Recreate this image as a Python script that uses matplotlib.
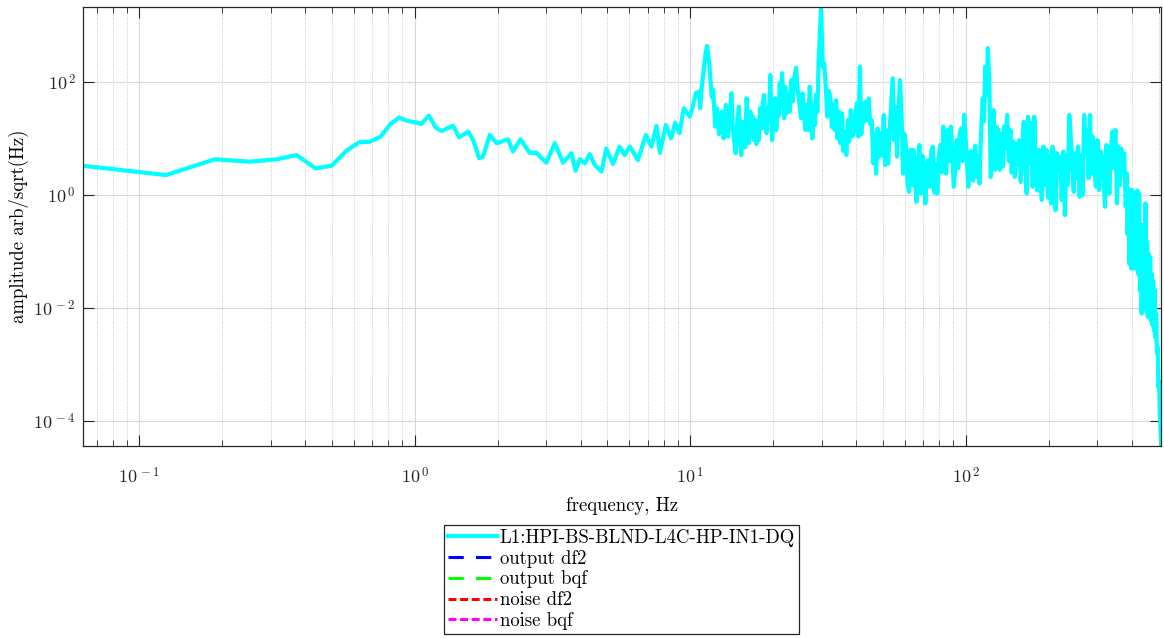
import numpy as np
import matplotlib
matplotlib.use('Agg')
import matplotlib.pyplot as plt
from matplotlib.ticker import FixedLocator, FixedFormatter, LogLocator, NullLocator, NullFormatter

plt.rcParams['font.family'] = 'serif'
plt.rcParams['font.serif'] = ['cmr10', 'DejaVu Serif']
plt.rcParams['mathtext.fontset'] = 'cm'
plt.rcParams['axes.unicode_minus'] = False

# spectrum: frequency (Hz) and amplitude (arb/sqrt(Hz))
# low part, below the 30 Hz spike
freq_lo = [0.0625, 0.125, 0.188, 0.252, 0.315, 0.372, 0.437, 0.499, 0.565, 0.628,
           0.687, 0.751, 0.816, 0.877, 0.933, 1.04, 1.057, 1.124, 1.19, 1.25,
           1.377, 1.448, 1.561, 1.628, 1.71, 1.768, 1.87, 1.98, 2.18, 2.27,
           2.42, 2.61, 2.76, 3.0, 3.22, 3.45, 3.70, 3.83, 3.97, 4.14,
           4.31, 4.5, 4.76, 4.95, 5.24, 5.53, 5.77, 6.03, 6.45, 6.89,
           7.22, 7.53, 7.75, 8.14, 8.51, 8.81, 9.13, 9.46, 9.94, 10.2,
           10.46, 10.75, 10.85, 11.0, 11.35, 11.5, 11.7, 11.95, 12.1, 12.3,
           12.45, 12.55, 12.7, 12.8, 13.0, 13.1, 13.2, 13.35, 13.45, 13.6,
           13.7, 13.9, 14.1, 14.25, 14.4, 14.6, 14.8, 15.0, 15.15, 15.3,
           15.45, 15.6, 15.8, 16.0, 16.15, 16.3, 16.5, 16.65, 16.8, 17.0,
           17.2, 17.35, 17.5, 17.7, 17.9, 18.1, 18.3, 18.5, 18.7, 18.9,
           19.1, 19.3, 19.5, 19.65, 19.8, 20.0, 20.3, 20.5, 20.7, 20.9,
           21.1, 21.3, 21.5, 21.7, 21.9, 22.1, 22.3, 22.6, 22.9, 23.2,
           23.5, 23.8, 24.2, 24.5, 24.9, 25.2, 25.5, 25.8, 26.1, 26.4,
           26.8, 27.1, 27.5, 27.7, 28.0, 28.3, 28.6, 28.9, 29.2, 29.8]
amp_lo = [3.3, 2.26, 4.3, 3.9, 4.3, 5.1, 2.97, 3.3, 6.1, 8.6,
          8.8, 10.8, 18.2, 23.5, 20.8, 18.7, 18.2, 25.5, 15.9, 13.6,
          16.9, 10.5, 13.3, 9.4, 4.5, 4.8, 11.6, 8.3, 9.7, 5.9,
          9.7, 5.6, 5.6, 3.74, 8.3, 3.74, 5.5, 2.7, 4.3, 3.65,
          5.3, 3.4, 2.6, 6.7, 3.55, 7.2, 5.1, 7.2, 4.17, 11.6,
          7.2, 16.7, 5.6, 17.4, 10.1, 19.1, 12.4, 34.5, 24.5, 36.8,
          63.6, 68.0, 34.5, 83.0, 325.0, 437.0, 216.0, 55.0, 73.0, 16.3,
          35.0, 28.0, 12.0, 14.2, 30.0, 23.0, 10.1, 25.0, 39.5, 12.0,
          10.8, 30.0, 63.6, 15.0, 9.4, 5.5, 20.0, 36.8, 8.0, 5.1,
          20.0, 14.2, 7.0, 51.6, 20.0, 8.3, 30.0, 12.0, 25.0, 9.4,
          21.3, 8.0, 18.0, 9.4, 34.5, 15.0, 40.0, 59.0, 20.0, 12.4,
          35.0, 28.0, 134.0, 30.0, 9.4, 20.0, 51.6, 14.2, 40.0, 25.0,
          95.0, 50.0, 144.0, 40.0, 23.0, 83.0, 28.0, 60.0, 30.0, 109.0,
          45.0, 120.0, 180.0, 73.0, 40.0, 23.0, 63.6, 30.0, 14.2, 40.0,
          14.2, 83.0, 30.0, 10.1, 36.8, 17.4, 60.0, 30.0, 250.0, 2140.0]

# dense band from 30 Hz up to the roll-off
freq_hi = [30.2, 30.6, 31.0, 31.4, 31.8, 32.2, 32.6, 33.0, 33.4, 33.8,
           34.2, 34.6, 35.0, 35.5, 35.9, 36.4, 36.8, 37.3, 37.7, 38.2,
           38.7, 39.2, 39.7, 40.2, 40.7, 41.2, 41.7, 42.2, 42.7, 43.3,
           43.8, 44.4, 44.9, 45.5, 46.1, 46.6, 47.2, 47.8, 48.4, 49.0,
           49.6, 50.3, 50.9, 51.5, 52.2, 52.8, 53.5, 54.2, 54.8, 55.5,
           56.2, 56.9, 57.6, 58.4, 59.1, 59.8, 60.6, 61.3, 62.1, 62.9,
           63.7, 64.5, 65.3, 66.1, 66.9, 67.8, 68.6, 69.5, 70.4, 71.2,
           72.1, 73.0, 74.0, 74.9, 75.8, 76.8, 77.7, 78.7, 79.7, 80.7,
           81.7, 82.7, 83.8, 84.8, 85.9, 87.0, 88.1, 89.2, 90.3, 91.4,
           92.6, 93.7, 94.9, 96.1, 97.3, 98.5, 99.8, 101.0, 102.0, 104.0,
           105.0, 106.0, 108.0, 109.0, 110.0, 112.0, 113.0, 115.0, 116.0, 117.6,
           119.0, 120.0, 121.5, 123.0, 124.5, 126.0, 127.5, 129.0, 131.0, 132.5,
           134.0, 136.0, 137.5, 139.0, 141.0, 143.0, 145.0, 146.5, 148.5, 150.5,
           152.0, 154.0, 156.0, 158.0, 160.0, 162.0, 164.0, 166.0, 168.0, 170.0,
           172.5, 174.5, 177.0, 179.0, 181.5, 184.0, 186.0, 188.5, 191.0, 193.5,
           196.0, 198.5, 201.0, 203.5, 206.0, 209.0, 211.5, 214.0, 217.0, 220.0,
           222.5, 225.5, 228.5, 231.0, 234.0, 237.0, 240.0, 243.0, 246.0, 249.0,
           252.0, 255.0, 258.5, 262.0, 265.0, 268.5, 272.0, 275.0, 278.5, 282.0,
           285.5, 289.0, 292.5, 296.0, 300.0, 304.0, 307.5, 311.5, 315.5, 319.5,
           323.5, 327.5, 331.5, 335.5, 340.0, 344.0, 348.5, 353.0, 357.0, 361.5,
           366.0, 370.5, 375.0]
amp_hi = [188.0, 216.0, 83.0, 24.5, 70.0, 55.0, 16.0, 40.0, 14.2, 48.0,
          10.0, 30.0, 8.3, 28.0, 6.0, 13.3, 5.1, 21.3, 8.8, 32.0,
          11.0, 13.3, 30.0, 42.0, 10.8, 188.0, 12.0, 42.0, 20.0, 45.0,
          21.3, 51.6, 18.0, 21.3, 3.65, 12.0, 2.4, 15.0, 4.8, 12.4,
          5.0, 26.2, 3.4, 14.0, 3.6, 12.4, 40.0, 117.0, 9.4, 36.8,
          4.8, 30.0, 109.0, 24.5, 2.4, 12.0, 7.2, 1.8, 1.14, 6.3,
          1.5, 6.3, 2.1, 0.76, 4.0, 7.7, 1.07, 5.0, 3.65, 0.71,
          3.0, 4.17, 1.4, 6.0, 7.2, 1.1, 3.5, 1.07, 5.0, 7.7,
          2.5, 16.3, 3.0, 2.4, 14.2, 4.0, 16.3, 6.0, 1.4, 2.8,
          9.4, 3.0, 12.0, 15.2, 4.0, 26.2, 9.4, 3.0, 1.4, 6.0,
          4.8, 1.8, 7.5, 2.1, 5.0, 1.6, 7.7, 51.6, 20.0, 188.0,
          60.0, 400.0, 109.0, 2.1, 9.4, 32.0, 2.8, 16.3, 14.2, 2.8,
          12.0, 3.2, 16.3, 6.7, 26.2, 4.0, 14.2, 2.5, 9.0, 2.1,
          8.0, 3.4, 9.4, 1.7, 6.7, 20.0, 4.0, 1.07, 24.5, 3.65,
          18.7, 1.4, 24.5, 4.8, 1.2, 6.3, 2.0, 0.82, 7.2, 1.5,
          6.3, 0.9, 5.0, 0.71, 7.2, 2.0, 0.54, 5.5, 2.8, 4.8,
          0.82, 5.9, 0.44, 5.1, 1.5, 26.2, 10.8, 3.0, 1.14, 5.5,
          2.0, 7.2, 0.93, 5.0, 1.0, 26.2, 8.0, 14.2, 2.0, 26.2,
          2.4, 10.8, 3.0, 1.4, 9.4, 1.23, 6.0, 4.8, 2.0, 0.62,
          7.7, 2.0, 1.07, 6.3, 13.3, 3.0, 14.2, 0.71, 7.2, 1.5,
          6.7, 2.4, 5.5]

# roll-off above 380 Hz
freq_top = [380.0, 383.0, 386.0, 389.0, 392.0, 395.0, 398.0, 401.0, 404.0, 407.0,
            410.0, 413.0, 416.0, 419.0, 422.0, 425.0, 428.0, 431.0, 434.0, 437.0,
            440.0, 443.0, 446.0, 448.0, 451.0, 454.0, 457.0, 460.0, 463.0, 466.0,
            469.0, 472.0, 475.0, 478.0, 481.0, 484.0, 487.0, 490.0, 493.0, 496.0,
            499.0, 502.0, 505.0, 508.0, 511.0]
amp_top = [0.62, 2.4, 0.2, 1.3, 0.06, 1.2, 0.05, 1.23, 0.1, 0.9,
           0.05, 1.1, 0.07, 1.2, 0.04, 1.07, 0.02, 0.3, 0.008, 0.2,
           0.01, 0.3, 0.015, 0.71, 0.009, 0.15, 0.007, 0.09, 0.008, 0.08,
           0.006, 0.04, 0.005, 0.03, 0.004, 0.021, 0.003, 0.008, 0.0016, 0.002,
           4e-4, 5e-4, 1.3e-4, 8e-5, 3.6e-5]

freq = freq_lo + freq_hi + freq_top
amp = amp_lo + amp_hi + amp_top

legend_labels = ['L1:HPI-BS-BLND-L4C-HP-IN1-DQ', 'output df2', 'output bqf',
                 'noise df2', 'noise bqf']

fig = plt.figure(figsize=(11.64, 6.38), dpi=100)
ax = fig.add_axes([0.0713, 0.301, 0.9265, 0.688])

ax.loglog(freq, amp, color='cyan', lw=3, label=legend_labels[0])
# filter outputs: nothing visible in the plot, only in the legend
ax.plot([], [], color='blue', lw=2.2, ls=(0, (5, 4)), label=legend_labels[1])
ax.plot([], [], color='lime', lw=2.2, ls=(0, (5, 4)), label=legend_labels[2])
ax.plot([], [], color='red', lw=2.2, ls=(0, (2.6, 1.2)), label=legend_labels[3])
ax.plot([], [], color='magenta', lw=2.2, ls=(0, (2.6, 1.2)), label=legend_labels[4])

ax.set_xlim(0.0625, 512)
ax.set_ylim(min(amp), max(amp))

xt = [0.1, 1, 10, 100]
ax.xaxis.set_major_locator(FixedLocator(xt))
ax.xaxis.set_major_formatter(FixedFormatter([r'$10^{\,-1}$', r'$10^{\,0}$', r'$10^{\,1}$', r'$10^{\,2}$']))
ax.xaxis.set_minor_locator(LogLocator(base=10, subs=np.arange(2, 10), numticks=20))
ax.xaxis.set_minor_formatter(NullFormatter())
yt = [1e-4, 1e-2, 1, 1e2]
ax.yaxis.set_major_locator(FixedLocator(yt))
ax.yaxis.set_major_formatter(FixedFormatter([r'$10^{\,-4}$', r'$10^{\,-2}$', r'$10^{\,0}$', r'$10^{\,2}$']))
ax.yaxis.set_minor_locator(NullLocator())

ax.tick_params(which='both', direction='in', top=True, right=True, labelsize=13, colors='#262626')
ax.tick_params(which='major', length=8, width=0.8)
ax.tick_params(axis='x', which='major', pad=14)
ax.tick_params(axis='y', which='major', pad=5)
ax.tick_params(which='minor', length=4, width=0.6)
ax.grid(which='major', color='#d9d9d9', lw=0.8)
ax.grid(which='minor', axis='x', color='#c8c8c8', lw=0.7, ls=':')
for s in ax.spines.values():
    s.set_color('#262626')
    s.set_linewidth(0.9)

ax.set_xlabel('frequency, Hz', fontsize=13.5, labelpad=8)
ax.set_ylabel('amplitude arb/sqrt(Hz)', fontsize=13.5, labelpad=3)

leg = fig.legend(loc='upper center', bbox_to_anchor=(0.534, 0.177), fontsize=13.5,
                 frameon=True, fancybox=False, edgecolor='#262626', framealpha=1,
                 handlelength=2.6, handletextpad=0.15, borderpad=0.2,
                 labelspacing=0.15, borderaxespad=0)
leg.get_frame().set_linewidth(0.9)

fig.savefig('out.png', dpi=100)
